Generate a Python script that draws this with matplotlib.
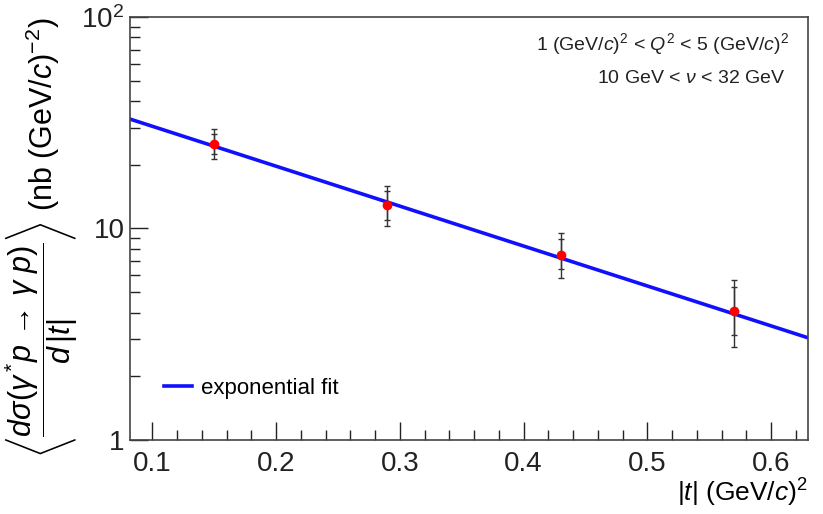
import numpy as np
import matplotlib
matplotlib.use("Agg")
import matplotlib.pyplot as plt
from matplotlib.ticker import FixedLocator, MultipleLocator, FuncFormatter, LogLocator, NullFormatter

plt.rcParams["font.family"] = ["Liberation Sans", "DejaVu Sans"]
plt.rcParams["mathtext.fontset"] = "custom"
plt.rcParams["mathtext.rm"] = "Liberation Sans"
plt.rcParams["mathtext.it"] = "Liberation Sans:italic"
plt.rcParams["mathtext.bf"] = "Liberation Sans:bold"

# data points: |t| bin centres, cross section, stat and total errors
t = [0.15, 0.29, 0.43, 0.57]
xsec = [25.0, 12.85, 7.53, 4.09]
stat_lo = [2.6, 1.85, 1.13, 0.94]
stat_hi = [2.9, 2.15, 1.34, 1.22]
tot_lo = [3.8, 2.55, 1.67, 1.33]
tot_hi = [4.5, 2.95, 1.94, 1.64]

# exponential fit drawn between its end points
fit_t = [0.082, 0.63]
fit_y = [32.9, 3.04]

fig = plt.figure(figsize=(8.23, 5.14), dpi=100)
ax = fig.add_axes([0.158, 0.144, 0.824, 0.823])

ax.plot(fit_t, fit_y, color="#1010ff", lw=2.6, label="exponential fit", zorder=2)

ax.errorbar(t, xsec, yerr=[tot_lo, tot_hi], fmt="none", ecolor="#333333",
            elinewidth=1.0, capsize=2.5, capthick=1.0, zorder=3)
ax.errorbar(t, xsec, yerr=[stat_lo, stat_hi], fmt="none", ecolor="#333333",
            elinewidth=1.0, capsize=2.5, capthick=1.0, zorder=3)
ax.plot(t, xsec, "o", color="red", ms=6, zorder=4)

ax.set_yscale("log")
ax.set_ylim(1, 100)
ax.set_xlim(0.082, 0.63)

ax.xaxis.set_major_locator(MultipleLocator(0.1))
ax.xaxis.set_minor_locator(MultipleLocator(0.02))
ax.xaxis.set_major_formatter(FuncFormatter(lambda v, p: "%.1f" % v))
ax.yaxis.set_major_locator(FixedLocator([1, 10, 100]))
ax.yaxis.set_minor_locator(LogLocator(base=10, subs=np.arange(2, 10)))
ax.yaxis.set_minor_formatter(NullFormatter())
ylab = {1: "1", 10: "10", 100: "$10^2$"}
ax.yaxis.set_major_formatter(FuncFormatter(lambda v, p: ylab.get(int(round(v)), "")))

ax.tick_params(which="both", direction="in", top=False, right=False, labelsize=20, colors="#222222")
ax.tick_params(which="major", length=13, width=1.0)
ax.tick_params(which="minor", length=7, width=1.0)
ax.tick_params(axis="x", pad=8)
ax.tick_params(axis="y", pad=4)
for s in ax.spines.values():
    s.set_color("#444444")
    s.set_linewidth(1.2)

ax.set_xlabel(r"|$t$| (GeV/$c$)$^2$", fontsize=19, loc="right", labelpad=0)
ax.set_ylabel(r"$\left\langle\dfrac{d\sigma(\gamma\,^{*}p\,\rightarrow\,\gamma\ p)}{d\,|t|}\right\rangle$ (nb (GeV/$c$)$^{\mathregular{-2}}$)",
              fontsize=22, loc="top", labelpad=1)

ax.text(0.972, 0.935, r"1 (GeV/$c$)$^2$ < $Q^2$ < 5 (GeV/$c$)$^2$", transform=ax.transAxes,
        ha="right", va="center", fontsize=14, color="#222222")
ax.text(0.966, 0.855, r"10 GeV < $\nu$ < 32 GeV", transform=ax.transAxes,
        ha="right", va="center", fontsize=14, color="#222222")

ax.legend(loc="lower left", bbox_to_anchor=(0.02, 0.05), frameon=False, fontsize=16,
          handlelength=1.3, handletextpad=0.4)

fig.savefig("out.png", dpi=100)
